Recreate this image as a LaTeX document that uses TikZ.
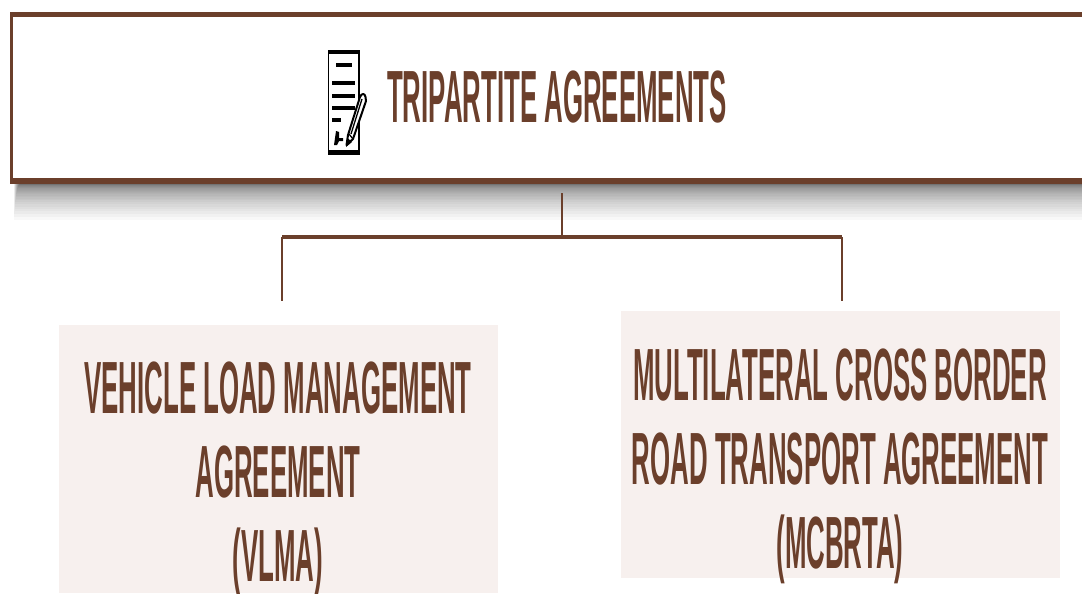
\documentclass[tikz,border=0pt]{standalone}
\usepackage{fontspec}
\newfontfamily\cond[FakeStretch=0.349]{Liberation Sans}
\definecolor{brn}{HTML}{6B3F2B}
\definecolor{pink}{HTML}{F7F0EE}
\tikzset{
  titlebox/.style={fill=white,minimum width=1100pt,minimum height=168pt,anchor=north west,inner sep=0pt},
  agreebox/.style={fill=pink,anchor=north west,inner sep=0pt},
  agreetext/.style={text=brn,align=center,font=\cond\bfseries\fontsize{74}{84}\selectfont,inner sep=0pt},
  thick link/.style={draw=brn,line width=3.6pt},
  thin link/.style={draw=brn,line width=1.7pt},
  ink/.style={black,line cap=butt},
}
\begin{document}
\begin{tikzpicture}[x=1pt,y=-1pt]
\useasboundingbox (0,0) rectangle (1082,594);
\begin{scope}
\clip (0,0) rectangle (1082,594);
% shadow
\foreach \i in {0,...,39}{
  \fill[black,opacity=0.028] ({14+0.2*\i},180) rectangle (1100,{184+36*pow(1-\i/40,3.5)});
}
\node[titlebox] (title) at (11,14) {};
\fill[brn] (10,12) rectangle (1100,17.5);
\fill[brn] (10,178) rectangle (1100,184);
\fill[brn] (10,12) rectangle (13,184);
\node[text=brn,font=\cond\bfseries\fontsize{74}{74}\selectfont,anchor=base west,inner sep=0pt] (titletext) at (387,122) {TRIPARTITE AGREEMENTS};
% icon
\draw[black,line width=1.8pt] (328.5,51) rectangle (359,154);
\fill[black] (327.6,50) rectangle (359.9,54.5);
\fill[black] (327.6,150) rectangle (359.9,154.8);
\draw[ink,line width=4pt] (336,65.5) -- (352,65.5);
\draw[ink,line width=4pt] (332,83.5) -- (355,83.5);
\draw[ink,line width=4pt] (332,95.5) -- (355,95.5);
\draw[ink,line width=4pt] (332,108) -- (355,108);
\draw[ink,line width=4pt] (332,120) -- (341,120);
\fill[black] (334,145) -- (335,138) -- (336,131) -- (339,132) -- (339,138) -- (343,138) -- (343,141) -- (339,141) -- (337,145) -- cycle;
\filldraw[fill=white,draw=black,line width=2pt,line join=round] (346.5,145) -- (348,135) -- (360,97) .. controls (361.5,93) and (365,93) .. (365.5,97) -- (366,101) -- (353,139) -- cycle;
\draw[black,line width=1.3pt] (349,134) -- (353,139);
\draw[black,line width=1.3pt] (351,134) -- (362,99);
\fill[black] (346,147) -- (347.5,138) -- (352,142) -- cycle;
% boxes
\node[agreebox,minimum width=439pt,minimum height=268pt] (vlma) at (59,325) {};
\node[agreebox,minimum width=439pt,minimum height=267pt] (mcbrta) at (621,311) {};
\node[agreetext,anchor=north] (vlmatext) at (278,362) {VEHICLE LOAD MANAGEMENT\\AGREEMENT\\(VLMA)};
\node[agreetext,anchor=north] (mcbrtatext) at (840,348.5) {MULTILATERAL CROSS BORDER\\ROAD TRANSPORT AGREEMENT\\(MCBRTA)};
% connectors
\coordinate (stem top) at (562,193);
\coordinate (stem low) at (562,237);
\coordinate (bar left) at (282,237);
\coordinate (bar right) at (842,237);
\coordinate (drop left) at (282,301);
\coordinate (drop right) at (842,301);
\draw[thin link] (stem top) -- (stem low);
\draw[thin link] (bar left) -- (drop left);
\draw[thin link] (bar right) -- (drop right);
\draw[thick link,line cap=square] (bar left) -- (bar right);
\end{scope}
\end{tikzpicture}
\end{document}
